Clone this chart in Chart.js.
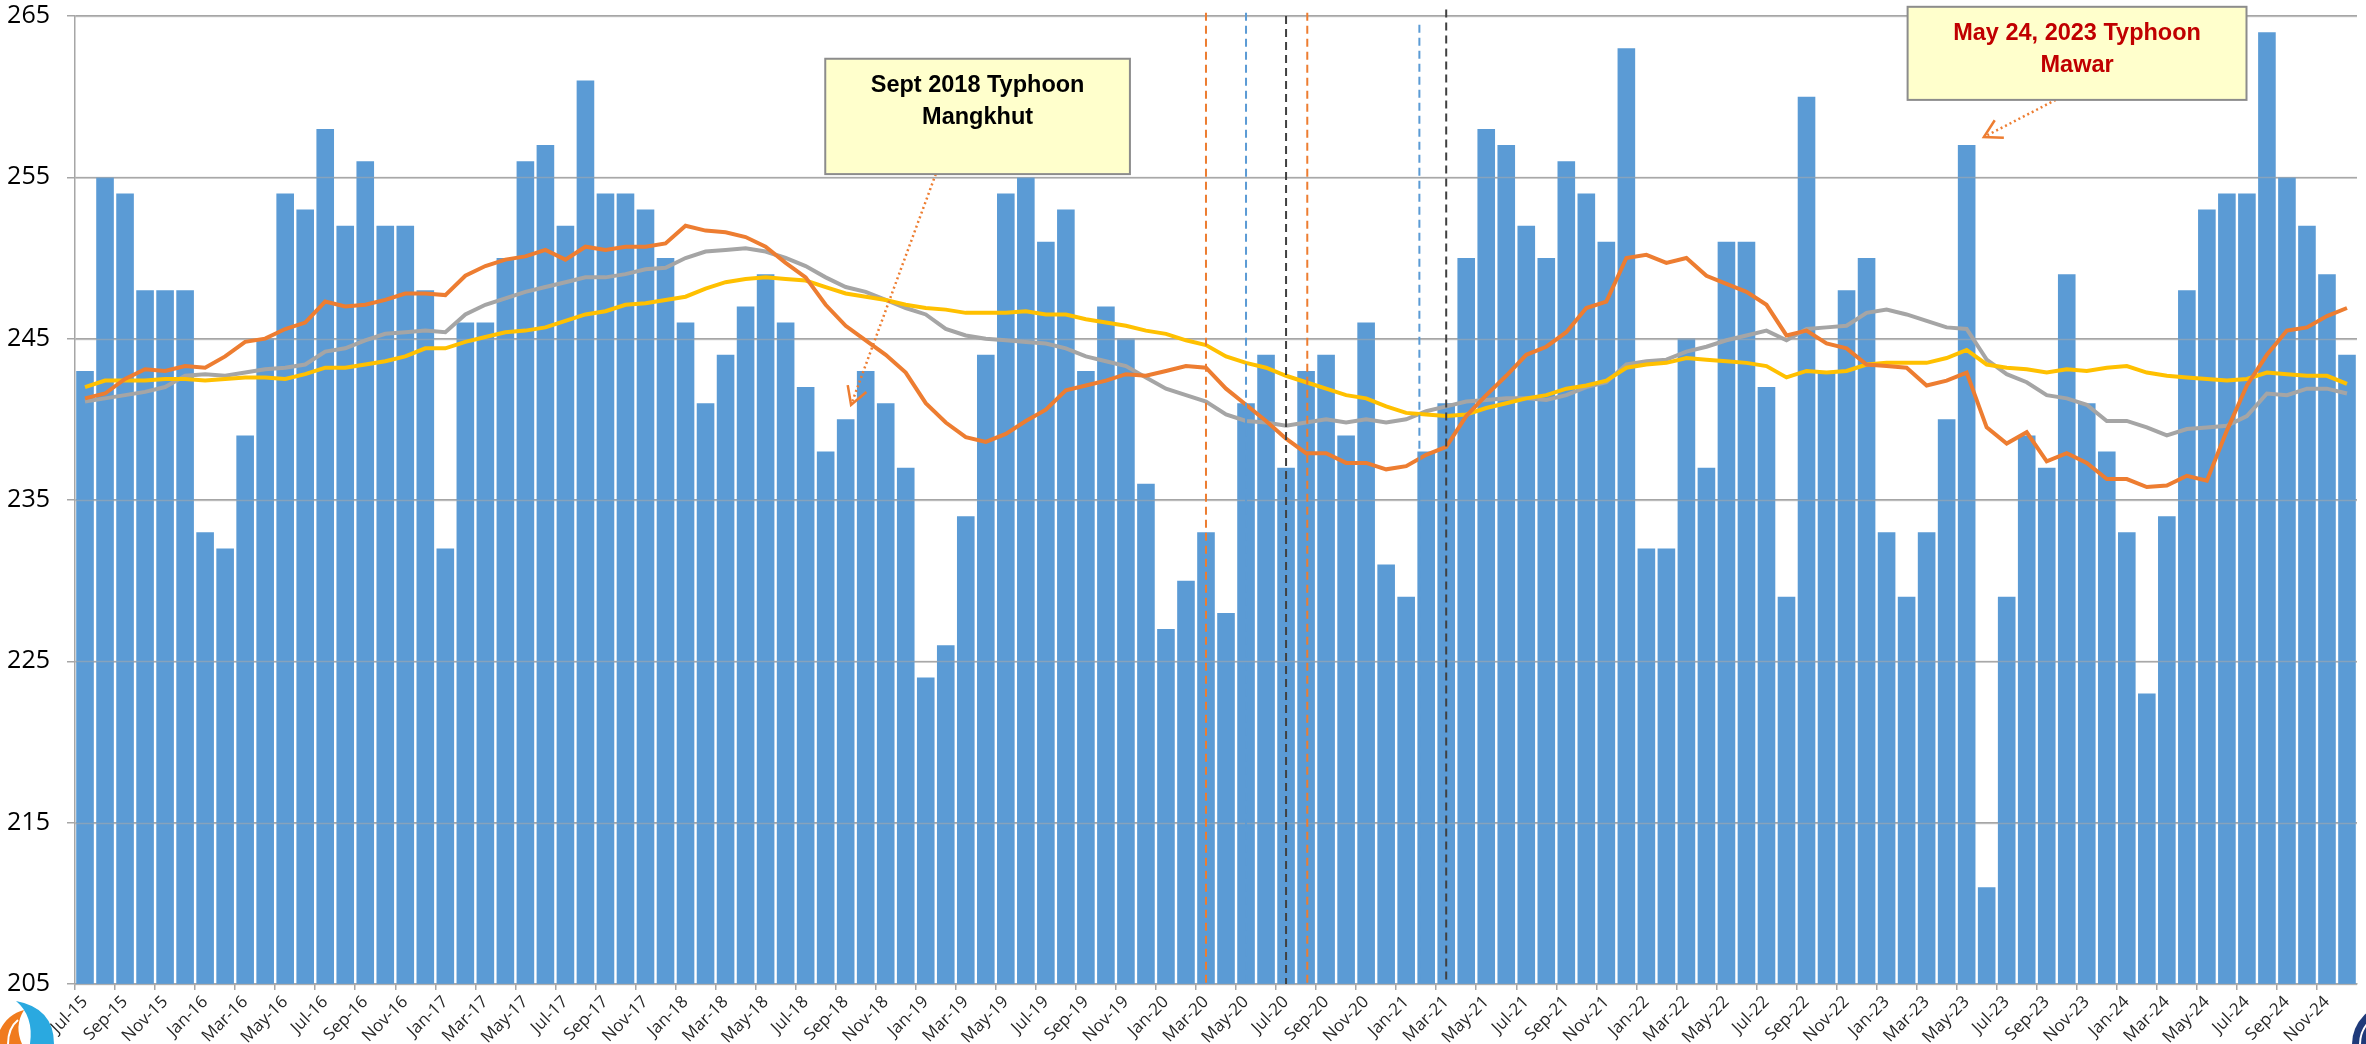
<!DOCTYPE html>
<html>
<head>
<meta charset="utf-8">
<script src="https://cdn.jsdelivr.net/npm/chart.js@4/dist/chart.umd.min.js"></script>
<style>
  html, body { margin: 0; padding: 0; background: #fff; }
  #wrap { width: 2366px; height: 1044px; position: relative; }
</style>
</head>
<body>
<div id="wrap"><canvas id="fuelChart"></canvas></div>
<script>
  // month labels Jul-15 .. Dec-24
  const monthNames = ['Jan', 'Feb', 'Mar', 'Apr', 'May', 'Jun', 'Jul', 'Aug', 'Sep', 'Oct', 'Nov', 'Dec'];
  const categories = [];
  for (let y = 2015; y <= 2024; y++) {
    for (let m = 0; m < 12; m++) {
      if (y === 2015 && m < 6) continue;
      categories.push(monthNames[m] + '-' + String(y).slice(2));
    }
  }

  const monthly = [
    243, 255, 254, 248, 248, 248,
    233, 232, 239, 245, 254, 253, 258, 252, 256, 252, 252, 248,
    232, 246, 246, 250, 256, 257, 252, 261, 254, 254, 253, 250,
    246, 241, 244, 247, 249, 246, 242, 238, 240, 243, 241, 237,
    224, 226, 234, 244, 254, 255, 251, 253, 243, 247, 245, 236,
    227, 230, 233, 228, 241, 244, 237, 243, 244, 239, 246, 231,
    229, 238, 241, 250, 258, 257, 252, 250, 256, 254, 251, 263,
    232, 232, 245, 237, 251, 251, 242, 229, 260, 243, 248, 250,
    233, 229, 233, 240, 257, 211, 229, 239, 237, 249, 241, 238,
    233, 223, 234, 248, 253, 254, 254, 264, 255, 252, 249, 244
  ];

  const orangeAvg = [
    241.3, 241.6, 242.5, 243.1, 243.0, 243.3,
    243.2, 243.9, 244.8, 245.0, 245.6, 246.0, 247.3, 247.0, 247.1, 247.4, 247.8, 247.8,
    247.7, 248.9, 249.5, 249.9, 250.1, 250.5, 249.9, 250.7, 250.5, 250.7, 250.7, 250.9,
    252.0, 251.7, 251.6, 251.3, 250.7, 249.7, 248.8, 247.1, 245.8, 244.9, 244.0, 242.9,
    241.0, 239.8, 238.9, 238.6, 239.1, 239.9, 240.6, 241.8, 242.1, 242.4, 242.8, 242.7,
    243.0, 243.3, 243.2, 241.9, 240.9, 239.9, 238.8, 237.9, 237.9, 237.3, 237.3, 236.9,
    237.1, 237.8, 238.3, 240.2, 241.5, 242.7, 244.0, 244.5, 245.4, 246.9, 247.3, 250.0,
    250.2, 249.7, 250.0, 248.9, 248.4, 247.9, 247.1, 245.2, 245.5, 244.7, 244.4, 243.4,
    243.3, 243.2, 242.1, 242.4, 242.9, 239.5, 238.5, 239.2, 237.4, 237.9, 237.3, 236.3,
    236.3, 235.8, 235.9, 236.5, 236.2, 239.3, 242.1, 244.0, 245.5, 245.7, 246.4, 246.9
  ];

  const greyAvg = [
    241.1, 241.3, 241.5, 241.7, 242.0, 242.7,
    242.8, 242.7, 242.9, 243.1, 243.2, 243.4, 244.2, 244.4, 244.9, 245.3, 245.4, 245.5,
    245.4, 246.5, 247.1, 247.5, 247.9, 248.2, 248.5, 248.8, 248.8, 249.0, 249.3, 249.4,
    250.0, 250.4, 250.5, 250.6, 250.4, 250.0, 249.5, 248.8, 248.2, 247.9, 247.4, 246.9,
    246.5, 245.6, 245.2, 245.0, 244.9, 244.8, 244.7, 244.4, 243.9, 243.6, 243.3, 242.6,
    241.9, 241.5, 241.1, 240.3, 239.9, 239.8, 239.6, 239.8, 240.0, 239.8, 240.0, 239.8,
    240.0, 240.5, 240.8, 241.1, 241.2, 241.3, 241.3, 241.2, 241.5, 242.0, 242.3, 243.4,
    243.6, 243.7, 244.2, 244.5, 244.9, 245.2, 245.5, 244.9, 245.6, 245.7, 245.8, 246.6,
    246.8, 246.5, 246.1, 245.7, 245.6, 243.7, 242.8, 242.3, 241.5, 241.3, 240.9, 239.9,
    239.9, 239.5, 239.0, 239.4, 239.5, 239.6, 240.2, 241.6, 241.5, 241.9, 241.9, 241.6
  ];

  const yellowAvg = [
    242.0, 242.4, 242.4, 242.4, 242.5, 242.5,
    242.4, 242.5, 242.6, 242.6, 242.5, 242.8, 243.2, 243.2, 243.4, 243.6, 243.9, 244.4,
    244.4, 244.8, 245.1, 245.4, 245.5, 245.7, 246.1, 246.5, 246.7, 247.1, 247.2, 247.4,
    247.6, 248.1, 248.5, 248.7, 248.8, 248.7, 248.6, 248.2, 247.8, 247.6, 247.4, 247.1,
    246.9, 246.8, 246.6, 246.6, 246.6, 246.7, 246.5, 246.5, 246.2, 246.0, 245.8, 245.5,
    245.3, 244.9, 244.6, 243.9, 243.5, 243.2, 242.7, 242.3, 241.9, 241.5, 241.3, 240.8,
    240.4, 240.3, 240.2, 240.3, 240.7, 241.0, 241.3, 241.5, 241.9, 242.1, 242.4, 243.2,
    243.4, 243.5, 243.8, 243.7, 243.6, 243.5, 243.3, 242.6, 243.0, 242.9, 243.0, 243.4,
    243.5, 243.5, 243.5, 243.8, 244.3, 243.4, 243.2, 243.1, 242.9, 243.1, 243.0, 243.2,
    243.3, 242.9, 242.7, 242.6, 242.5, 242.4, 242.5, 242.9, 242.8, 242.7, 242.7, 242.2
  ];

  const yTicks = [205, 215, 225, 235, 245, 255, 265];

  // dashed event markers, position as category index
  const markerIdx = [56, 58, 60, 61.06, 66.66, 68];
  const markerTop = [265.2, 265.2, 265.0, 265.2, 264.45, 265.4];
  const markerColor = ['#ED7D31', '#5B9BD5', '#404040', '#ED7D31', '#5B9BD5', '#404040'];

  // callouts: box in (index, value), arrow from tail to tip
  const callouts = [
    { lines: ['Sept 2018 Typhoon', 'Mangkhut'], color: '#000000',
      box: [36.98, 262.35, 52.2, 255.2], tail: [42.5, 255.2], tip: [38.27, 240.9] },
    { lines: ['May 24, 2023 Typhoon', 'Mawar'], color: '#C00000',
      box: [91.05, 265.57, 107.98, 259.8], tail: [98.45, 259.8], tip: [94.86, 257.5] }
  ];

  const gridOverBars = {
    id: 'gridOverBars',
    afterDatasetDraw(chart, args) {
      if (args.index !== 0) return;
      const { ctx, chartArea, scales } = chart;
      ctx.save();
      ctx.strokeStyle = 'rgba(170,170,170,0.55)';
      ctx.lineWidth = 1.5;
      yTicks.forEach(t => {
        const y = Math.round(scales.y.getPixelForValue(t)) + 0.5;
        ctx.beginPath();
        ctx.moveTo(chartArea.left, y);
        ctx.lineTo(chartArea.right, y);
        ctx.stroke();
      });
      ctx.restore();
    }
  };

  const markers = {
    id: 'markers',
    afterDatasetsDraw(chart) {
      const { ctx, scales } = chart;
      ctx.save();
      ctx.lineWidth = 2;
      ctx.setLineDash([8, 5]);
      markerIdx.forEach((m, i) => {
        const x = scales.x.getPixelForValue(m);
        ctx.strokeStyle = markerColor[i];
        ctx.beginPath();
        ctx.moveTo(x, scales.y.getPixelForValue(markerTop[i]));
        ctx.lineTo(x, scales.y.getPixelForValue(205));
        ctx.stroke();
      });
      ctx.restore();
    }
  };

  const calloutPlugin = {
    id: 'callouts',
    afterDraw(chart) {
      const { ctx, scales } = chart;
      const px = p => [scales.x.getPixelForValue(p[0]), scales.y.getPixelForValue(p[1])];
      callouts.forEach(c => {
        const [x0, y0] = px([c.box[0], c.box[1]]);
        const [x1, y1] = px([c.box[2], c.box[3]]);
        const [tx, ty] = px(c.tail);
        const [hx, hy] = px(c.tip);
        ctx.save();
        // dotted arrow
        ctx.strokeStyle = '#ED7D31';
        ctx.lineWidth = 2.5;
        ctx.setLineDash([2, 3]);
        ctx.beginPath();
        ctx.moveTo(tx, ty);
        ctx.lineTo(hx, hy);
        ctx.stroke();
        ctx.setLineDash([]);
        const ang = Math.atan2(ty - hy, tx - hx);
        ctx.beginPath();
        ctx.moveTo(hx + 20 * Math.cos(ang - 0.52), hy + 20 * Math.sin(ang - 0.52));
        ctx.lineTo(hx, hy);
        ctx.lineTo(hx + 20 * Math.cos(ang + 0.52), hy + 20 * Math.sin(ang + 0.52));
        ctx.stroke();
        // box
        ctx.fillStyle = '#FFFFCC';
        ctx.strokeStyle = '#8C8C8C';
        ctx.lineWidth = 2;
        ctx.fillRect(x0, y0, x1 - x0, y1 - y0);
        ctx.strokeRect(x0, y0, x1 - x0, y1 - y0);
        ctx.fillStyle = c.color;
        ctx.font = 'bold 23.5px "Liberation Sans", Arial, sans-serif';
        ctx.textAlign = 'center';
        ctx.textBaseline = 'middle';
        const cx = (x0 + x1) / 2;
        c.lines.forEach((t, i) => ctx.fillText(t, cx, y0 + 27 + i * 32));
        ctx.restore();
      });
    }
  };

  const logos = {
    id: 'logos',
    afterDraw(chart) {
      const ctx = chart.ctx;
      ctx.save();
      // left flame logo (cropped)
      ctx.fillStyle = '#2AA9E0';
      ctx.beginPath();
      ctx.moveTo(16, 1001);
      ctx.quadraticCurveTo(54, 1008, 54, 1044);
      ctx.lineTo(30, 1044);
      ctx.quadraticCurveTo(34, 1016, 16, 1001);
      ctx.closePath();
      ctx.fill();
      ctx.fillStyle = '#F07B1E';
      ctx.beginPath();
      ctx.moveTo(0, 1044);
      ctx.lineTo(0, 1030);
      ctx.quadraticCurveTo(8, 1014, 24, 1010);
      ctx.quadraticCurveTo(14, 1026, 22, 1044);
      ctx.closePath();
      ctx.fill();
      ctx.strokeStyle = '#ffffff';
      ctx.lineWidth = 2;
      ctx.beginPath();
      ctx.moveTo(8, 1044);
      ctx.quadraticCurveTo(8, 1028, 18, 1020);
      ctx.stroke();
      // right seal (cropped)
      ctx.fillStyle = '#1F3A7A';
      ctx.beginPath();
      ctx.arc(2392, 1044, 40, 0, Math.PI * 2);
      ctx.fill();
      ctx.strokeStyle = '#ffffff';
      ctx.beginPath();
      ctx.arc(2392, 1044, 32, 0, Math.PI * 2);
      ctx.stroke();
      ctx.restore();
    }
  };

  const data = {
    labels: categories,
    datasets: [
      {
        type: 'bar',
        data: monthly,
        backgroundColor: '#5B9BD5',
        barPercentage: 0.88,
        categoryPercentage: 1.0,
        order: 10
      },
      {
        type: 'line',
        data: greyAvg,
        borderColor: '#A5A5A5',
        borderWidth: 4,
        pointRadius: 0,
        tension: 0,
        order: 3
      },
      {
        type: 'line',
        data: yellowAvg,
        borderColor: '#FFC000',
        borderWidth: 4,
        pointRadius: 0,
        tension: 0,
        order: 2
      },
      {
        type: 'line',
        data: orangeAvg,
        borderColor: '#ED7D31',
        borderWidth: 4,
        pointRadius: 0,
        tension: 0,
        order: 1
      }
    ]
  };

  const config = {
    type: 'bar',
    data: data,
    options: {
      responsive: true,
      maintainAspectRatio: false,
      animation: false,
      layout: { padding: { top: 16, right: 9, left: 0, bottom: 0 } },
      plugins: {
        legend: { display: false },
        tooltip: { enabled: false }
      },
      scales: {
        x: {
          offset: true,
          afterFit: function(scale) {
            scale.height = 60;
            scale.paddingLeft = 0;
            scale.paddingRight = 0;
          },
          grid: {
            offset: true,
            drawOnChartArea: false,
            tickLength: 6,
            lineWidth: 1.5,
            color: function(ctx) { return ctx.index % 2 === 0 ? '#A6A6A6' : 'rgba(0,0,0,0)'; }
          },
          border: { color: '#A6A6A6', width: 1.5 },
          ticks: {
            autoSkip: false,
            maxRotation: 45,
            minRotation: 45,
            padding: 2,
            color: '#262626',
            font: { family: '"Open Sans", sans-serif', size: 17 },
            callback: function(value, index) { return index % 2 === 0 ? categories[index] : ''; }
          }
        },
        y: {
          min: 205,
          max: 265,
          afterFit: function(scale) {
            scale.width = 75;
            scale.paddingTop = 0;
            scale.paddingBottom = 0;
          },
          afterBuildTicks: function(scale) { scale.ticks = yTicks.map(v => ({ value: v })); },
          grid: { color: '#A6A6A6', lineWidth: 1.5, tickLength: 8 },
          border: { color: '#A6A6A6', width: 1.5 },
          ticks: {
            padding: 17,
            color: '#000',
            font: { family: '"Open Sans", sans-serif', size: 25 }
          }
        }
      }
    },
    plugins: [gridOverBars, markers, calloutPlugin, logos]
  };

  window.onload = function() {
    const ctx = document.getElementById('fuelChart').getContext('2d');
    new Chart(ctx, config);
  };
</script>
</body>
</html>
